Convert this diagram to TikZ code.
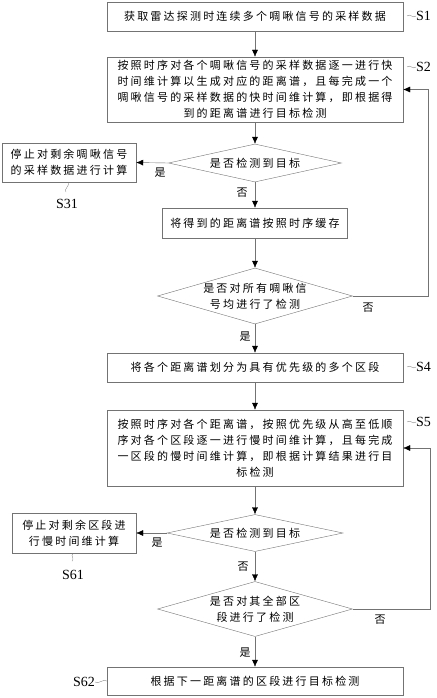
\documentclass[tikz,border=0pt]{standalone}
\usepackage{fontspec}
\setmainfont{Liberation Serif}
\newfontfamily\cjk[LetterSpace=20]{Noto Sans CJK SC}
\usetikzlibrary{shapes.geometric,arrows.meta}
\newcommand{\zh}{\cjk\fontsize{11}{16}\selectfont}
\newcommand{\sn}{\fontsize{14}{14}\selectfont}

\tikzset{
  stepbox/.style={draw=black!55, rectangle, inner sep=0pt, align=center, font=\zh},
  testbox/.style={draw=black!55, diamond, inner sep=-3pt, align=center, font=\zh},
  flow/.style={draw=black!55, -{Latex[length=7pt,width=6pt,color=black]}},
  yesno/.style={font=\zh, inner sep=0pt},
  steplabel/.style={font=\sn, inner sep=0pt},
  tilde/.style={draw=black!55, line width=.3pt}
}

\begin{document}
\begin{tikzpicture}[x=1pt,y=1pt]
   \useasboundingbox (0,0) rectangle (436,-698);
   % steps
   \node[stepbox, minimum width=296pt, minimum height=29pt] (s1)    at (255, -16.5) {获取雷达探测时连续多个啁啾信号的采样数据};
   \node[stepbox, minimum width=296pt, minimum height=65pt] (s2)    at (255, -89.5) {按照时序对各个啁啾信号的采样数据逐一进行快\\时间维计算以生成对应的距离谱，且每完成一个\\啁啾信号的采样数据的快时间维计算，即根据得\\到的距离谱进行目标检测};
   \node[testbox, aspect=4.55, minimum width=173pt, minimum height=38pt] (d1) at (255,-163) {是否检测到目标};
   \node[stepbox, minimum width=134pt, minimum height=39pt] (s31)   at ( 69,-162.5) {停止对剩余啁啾信号\\的采样数据进行计算};
   \node[stepbox, minimum width=185pt, minimum height=30pt] (cache) at (255,-223)   {将得到的距离谱按照时序缓存};
   \node[testbox, aspect=3.48, minimum width=195pt, minimum height=56pt] (d2) at (255,-296) {是否对所有啁啾信\\号均进行了检测};
   \node[stepbox, minimum width=296pt, minimum height=29pt] (s4)    at (255,-367.5) {将各个距离谱划分为具有优先级的多个区段};
   \node[stepbox, minimum width=296pt, minimum height=76pt] (s5)    at (255,-448)   {按照时序对各个距离谱，按照优先级从高至低顺\\序对各个区段逐一进行慢时间维计算，且每完成\\一区段的慢时间维计算，即根据计算结果进行目\\标检测};
   \node[testbox, aspect=4.76, minimum width=176pt, minimum height=37pt] (d3) at (255,-533) {是否检测到目标};
   \node[stepbox, minimum width=124pt, minimum height=40pt] (s61)   at ( 74,-533)   {停止对剩余区段进\\行慢时间维计算};
   \node[testbox, aspect=3.55, minimum width=195pt, minimum height=55pt] (d4) at (255,-609) {是否对其全部区\\段进行了检测};
   \node[stepbox, minimum width=296pt, minimum height=28pt] (s62)   at (255,-681)   {根据下一距离谱的区段进行目标检测};
   % step numbers
   \node[steplabel, anchor=west] (l1)  at (416, -16) {S1};
   \node[steplabel, anchor=west] (l2)  at (416, -67) {S2};
   \node[steplabel, anchor=west] (l4)  at (416,-367) {S4};
   \node[steplabel, anchor=west] (l5)  at (416,-422) {S5};
   \node[steplabel]              (l31) at ( 67,-204) {S31};
   \node[steplabel]              (l61) at ( 73,-575) {S61};
   \node[steplabel, anchor=east] (l62) at ( 95,-682) {S62};
   \draw[tilde] (l1.west) .. controls +(-3,-3) and +(3,3) .. ++(-9,0);
   \draw[tilde] (l2.west) .. controls +(-3,-3) and +(3,3) .. ++(-9,0);
   \draw[tilde] (l4.west) .. controls +(-3,-3) and +(3,3) .. ++(-9,0);
   \draw[tilde] (l5.west) .. controls +(-3,-3) and +(3,3) .. ++(-9,0);
   \draw[tilde] (l62.east) .. controls +(3,-3) and +(-3,3) .. (s62.west);
   \draw[tilde] ([xshift=-1pt]s31.south) .. controls +(3,-3) and +(-3,3) .. ++(-2,-10);
   \draw[tilde] ([xshift=-1pt]s61.south) .. controls +(-3,-3) and +(3,3) .. ++(-1,-8);
   % yes / no
   \node[yesno] (y1) at (160,-173) {是};
   \node[yesno] (n1) at (242,-193) {否};
   \node[yesno] (n2) at (368,-308) {否};
   \node[yesno] (y2) at (245,-337) {是};
   \node[yesno] (y3) at (157,-543) {是};
   \node[yesno] (n3) at (243,-567) {否};
   \node[yesno] (n4) at (380,-620) {否};
   \node[yesno] (y4) at (245,-653) {是};
   % connectors
   \coordinate (r1) at (428,-296);
   \coordinate (r2) at (430,-609);
   \draw[flow] (s1.south)    -- (s2.north);
   \draw[flow] (s2.south)    -- (d1.north);
   \draw[flow] (d1.west)     -- (s31.east);
   \draw[flow] (d1.south)    -- (cache.north);
   \draw[flow] (cache.south) -- (d2.north);
   \draw[flow] (d2.east)     -- (r1) |- (s2.east);
   \draw[flow] (d2.south)    -- (s4.north);
   \draw[flow] (s4.south)    -- (s5.north);
   \draw[flow] (s5.south)    -- (d3.north);
   \draw[flow] (d3.west)     -- (s61.east);
   \draw[flow] (d3.south)    -- (d4.north);
   \draw[flow] (d4.east)     -- (r2) |- (s5.east);
   \draw[flow] (d4.south)    -- (s62.north);
\end{tikzpicture}
\end{document}
